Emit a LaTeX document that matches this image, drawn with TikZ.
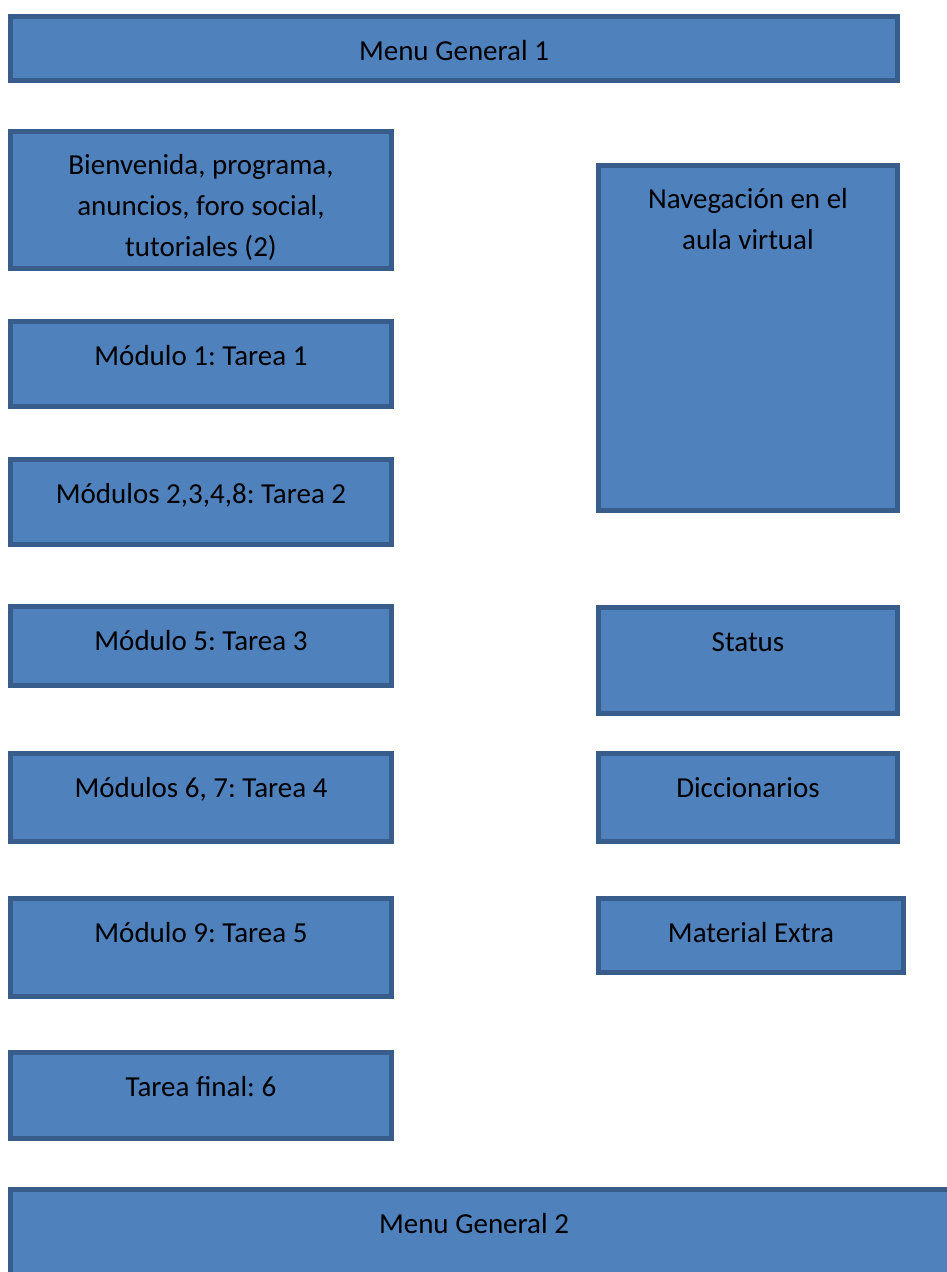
\documentclass[tikz,border=0pt]{standalone}
\usepackage{fontspec}
\setmainfont{Carlito}
\definecolor{boxfill}{HTML}{4F81BD}
\definecolor{boxline}{HTML}{385D8A}
\frenchspacing
\begin{document}
\begin{tikzpicture}[x=1pt,y=-1pt,
  box/.style={rectangle,draw=boxline,fill=boxfill,line width=5pt,inner sep=0pt,outer sep=0pt},
  lbl/.style={anchor=base,inner sep=0pt,align=center,font=\fontsize{29}{41}\selectfont\frenchspacing,text=black}]
\useasboundingbox (0,0) rectangle (947,1272);
\clip (0,0) rectangle (947,1272);
% left column
\node[box,minimum width=887pt,minimum height=64pt] (menu1) at (454,48.5) {};
\node[box,minimum width=381pt,minimum height=137pt] (bien) at (201,200) {};
\node[box,minimum width=381pt,minimum height=85pt] (mod1) at (201,364) {};
\node[box,minimum width=381pt,minimum height=85pt] (mod2) at (201,502) {};
\node[box,minimum width=381pt,minimum height=79pt] (mod5) at (201,646) {};
\node[box,minimum width=381pt,minimum height=88pt] (mod6) at (201,797.5) {};
\node[box,minimum width=381pt,minimum height=98pt] (mod9) at (201,947.5) {};
\node[box,minimum width=381pt,minimum height=86pt] (final) at (201,1095.5) {};
\node[box,minimum width=947pt,minimum height=98pt] (menu2) at (484,1238.5) {};
% right column
\node[box,minimum width=299pt,minimum height=345pt] (nav) at (748,338) {};
\node[box,minimum width=299pt,minimum height=106pt] (status) at (748,660.5) {};
\node[box,minimum width=299pt,minimum height=88pt] (dicc) at (748,797.5) {};
\node[box,minimum width=305pt,minimum height=74pt] (extra) at (751,935.5) {};
% labels (multi-line labels are placed by the baseline of their last line)
\node[lbl] (tmenu1) at ([yshift=-44pt]menu1.north) {Menu General 1};
\node[lbl] (tbien) at ([yshift=-125pt]bien.north) {Bienvenida, programa,\\anuncios, foro social,\\tutoriales (2)};
\node[lbl] (tmod1) at ([yshift=-44pt]mod1.north) {Módulo 1: Tarea 1};
\node[lbl] (tmod2) at ([yshift=-44pt]mod2.north) {Módulos 2,3,4,8: Tarea 2};
\node[lbl] (tmod5) at ([yshift=-44pt]mod5.north) {Módulo 5: Tarea 3};
\node[lbl] (tmod6) at ([yshift=-44pt]mod6.north) {Módulos 6, 7: Tarea 4};
\node[lbl] (tmod9) at ([yshift=-44pt]mod9.north) {Módulo 9: Tarea 5};
\node[lbl] (tfinal) at ([yshift=-44pt]final.north) {Tarea final: 6};
\node[lbl] (tmenu2) at (474,1233) {Menu General 2};
\node[lbl] (tnav) at ([yshift=-84pt]nav.north) {Navegación en el\\aula virtual};
\node[lbl] (tstatus) at ([yshift=-44pt]status.north) {Status};
\node[lbl] (tdicc) at ([yshift=-44pt]dicc.north) {Diccionarios};
\node[lbl] (textra) at ([yshift=-44pt]extra.north) {Material Extra};
\end{tikzpicture}
\end{document}
